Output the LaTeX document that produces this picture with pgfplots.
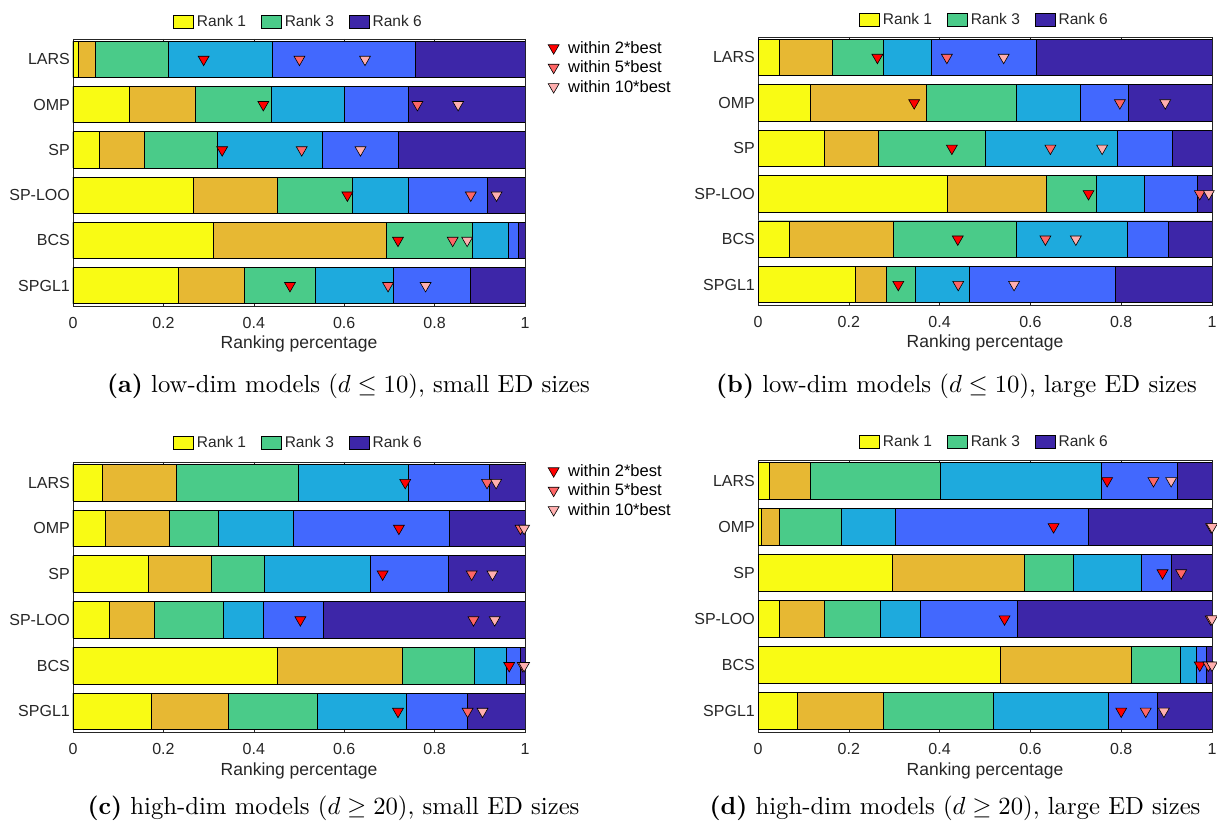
\documentclass[border=0pt]{standalone}
\usepackage{pgfplots}
\pgfplotsset{compat=1.18}
\usepackage{pgfplotstable}
\usepackage{fontspec}
\newfontfamily\hv{Liberation Sans}
\definecolor{rA}{RGB}{249,251,20}
\definecolor{rB}{RGB}{231,184,51}
\definecolor{rC}{RGB}{74,203,137}
\definecolor{rD}{RGB}{30,170,221}
\definecolor{rE}{RGB}{66,104,254}
\definecolor{rF}{RGB}{61,38,168}
\definecolor{axgray}{RGB}{38,38,38}
\definecolor{mA}{RGB}{255,0,0}
\definecolor{mB}{RGB}{255,102,102}
\definecolor{mC}{RGB}{255,175,175}

% cumulative right ends of ranks 1..6 (c1..c6) and marker positions (m1: 2*best, m2: 5*best, m3: 10*best)
\pgfplotstableread{
y c1 c2 c3 c4 c5 c6 m1 m2 m3
6 0.012 0.050 0.211 0.440 0.757 1 0.289 0.501 0.646
5 0.125 0.270 0.439 0.600 0.741 1 0.421 0.762 0.852
4 0.058 0.157 0.320 0.552 0.719 1 0.330 0.506 0.636
3 0.267 0.452 0.619 0.743 0.916 1 0.607 0.880 0.937
2 0.311 0.694 0.884 0.963 0.986 1 0.719 0.840 0.872
1 0.233 0.378 0.537 0.708 0.880 1 0.480 0.697 0.780
}\dataA
\pgfplotstableread{
y c1 c2 c3 c4 c5 c6 m1 m2 m3
6 0.048 0.163 0.275 0.382 0.614 1 0.263 0.416 0.541
5 0.116 0.371 0.568 0.711 0.815 1 0.344 0.797 0.897
4 0.147 0.264 0.501 0.792 0.913 1 0.427 0.644 0.758
3 0.417 0.635 0.745 0.850 0.967 1 0.728 0.973 0.993
2 0.070 0.299 0.568 0.813 0.903 1 0.440 0.633 0.700
1 0.214 0.283 0.347 0.465 0.787 1 0.309 0.441 0.564
}\dataB
\pgfplotstableread{
y c1 c2 c3 c4 c5 c6 m1 m2 m3
6 0.064 0.229 0.498 0.741 0.922 1 0.735 0.916 0.936
5 0.072 0.214 0.321 0.488 0.833 1 0.721 0.990 0.998
4 0.166 0.305 0.423 0.657 0.830 1 0.685 0.882 0.928
3 0.081 0.181 0.333 0.421 0.553 1 0.503 0.886 0.933
2 0.451 0.729 0.887 0.959 0.990 1 0.965 0.995 0.998
1 0.174 0.344 0.541 0.738 0.873 1 0.719 0.873 0.906
}\dataC
\pgfplotstableread{
y c1 c2 c3 c4 c5 c6 m1 m2 m3
6 0.024 0.115 0.402 0.756 0.923 1 0.769 0.871 0.910
5 0.008 0.048 0.184 0.302 0.728 1 0.651 0.998 1.000
4 0.295 0.587 0.695 0.844 0.910 1 0.891 0.932 nan
3 0.048 0.147 0.269 0.358 0.572 1 0.543 0.997 1.000
2 0.534 0.823 0.930 0.966 0.987 1 0.973 0.992 1.000
1 0.087 0.277 0.518 0.771 0.880 1 0.800 0.854 0.894
}\dataD

\pgfplotsset{
  base/.style={scale only axis, xmin=0, xmax=1, ymin=0.55, ymax=6.45, anchor=south west},
  barax/.style={base,
    xbar, bar width=0.8, bar shift=0pt,
    xtick={0,0.2,0.4,0.6,0.8,1}, xticklabels={0,0.2,0.4,0.6,0.8,1},
    ytick={1,2,3,4,5,6}, yticklabels={SPGL1,BCS,SP-LOO,SP,OMP,LARS},
    tick align=inside, major tick length=4.5pt,
    tick style={axgray, line width=0.6pt},
    axis line style={axgray, line width=0.8pt},
    ticklabel style={font=\hv\fontsize{16}{19}\selectfont, text=axgray},
    xticklabel style={yshift=-8pt},
    yticklabel style={inner sep=0pt, xshift=-3pt},
    xlabel={Ranking percentage},
    xlabel style={font=\hv\fontsize{17.5}{21}\selectfont, text=axgray, at={(axis description cs:0.5,0)}, anchor=base, yshift=-43pt},
    legend style={draw=none, fill=none, legend columns=3, at={(0.5,1)}, anchor=center,
      font=\hv\fontsize{15.5}{18}\selectfont, text=black!85,
      nodes={inner xsep=3pt, inner ysep=1pt},
      /tikz/every even column/.append style={column sep=12pt}},
    legend image code/.code={\draw[#1] (0pt,-6.5pt) rectangle (20pt,6.5pt);},
  },
  markax/.style={base, hide axis, clip=false,
    legend style={draw=none, fill=none, at={(1,1)}, anchor=north west, xshift=20pt, yshift=1.5pt,
      font=\hv\fontsize{16.5}{19}\selectfont, cells={anchor=west},
      nodes={inner xsep=2pt, inner ysep=1.5pt}, row sep=3pt,
      /tikz/every odd column/.append style={column sep=7pt}},
    legend image code/.code={\draw[#1] plot coordinates {(6pt,0pt)};},
  },
  bs/.style={fill=#1, draw=black, line width=0.7pt, forget plot},
  mk/.style={only marks, mark=triangle*, mark size=6.3pt,
    mark options={rotate=180, draw=black, line width=0.6pt, fill=#1}},
}

\newcommand\Bars[1]{%
  \addlegendimage{fill=rA, draw=black, line width=0.7pt}\addlegendentry{Rank 1}
  \addlegendimage{fill=rC, draw=black, line width=0.7pt}\addlegendentry{Rank 3}
  \addlegendimage{fill=rF, draw=black, line width=0.7pt}\addlegendentry{Rank 6}
  \addplot[bs=rF] table[x=c6,y=y]{#1};
  \addplot[bs=rE] table[x=c5,y=y]{#1};
  \addplot[bs=rD] table[x=c4,y=y]{#1};
  \addplot[bs=rC] table[x=c3,y=y]{#1};
  \addplot[bs=rB] table[x=c2,y=y]{#1};
  \addplot[bs=rA] table[x=c1,y=y]{#1};
}
\newcommand\Marks[1]{%
  \addplot[mk=mA] table[x=m1,y=y]{#1};
  \addplot[mk=mB] table[x=m2,y=y]{#1};
  \addplot[mk=mC] table[x=m3,y=y]{#1};
}

\begin{document}
\begin{tikzpicture}
\useasboundingbox (0,0) rectangle (1217pt,822pt);

% (a)
\begin{axis}[barax, at={(73pt,516pt)}, width=452pt, height=267pt, legend style={yshift=17pt}]
\Bars{\dataA}
\end{axis}
\begin{axis}[markax, at={(73pt,516pt)}, width=452pt, height=267pt]
\Marks{\dataA}
\legend{within 2*best, within 5*best, within 10*best}
\end{axis}

% (b)
\begin{axis}[barax, at={(758pt,517pt)}, width=454pt, height=268pt, legend style={yshift=17pt}]
\Bars{\dataB}
\end{axis}
\begin{axis}[markax, at={(758pt,517pt)}, width=454pt, height=268pt]
\Marks{\dataB}
\end{axis}

% (c)
\begin{axis}[barax, at={(73pt,90pt)}, width=452pt, height=270pt, legend style={yshift=19pt}]
\Bars{\dataC}
\end{axis}
\begin{axis}[markax, at={(73pt,90pt)}, width=452pt, height=270pt]
\Marks{\dataC}
\legend{within 2*best, within 5*best, within 10*best}
\end{axis}

% (d)
\begin{axis}[barax, at={(758pt,90pt)}, width=454pt, height=272pt, legend style={yshift=18pt}]
\Bars{\dataD}
\end{axis}
\begin{axis}[markax, at={(758pt,90pt)}, width=454pt, height=272pt]
\Marks{\dataD}
\end{axis}

\begin{scope}[every node/.style={anchor=base, font=\fontsize{10}{12}\selectfont, scale=2.47, inner sep=0pt}]
\node at (348.5pt,429pt) {\textbf{(a)} low-dim models ($d\leq 10$), small ED sizes};
\node at (956.5pt,429pt) {\textbf{(b)} low-dim models ($d\leq 10$), large ED sizes};
\node at (333.5pt,8pt) {\textbf{(c)} high-dim models ($d\geq 20$), small ED sizes};
\node at (955pt,8pt) {\textbf{(d)} high-dim models ($d\geq 20$), large ED sizes};
\end{scope}
\end{tikzpicture}
\end{document}
